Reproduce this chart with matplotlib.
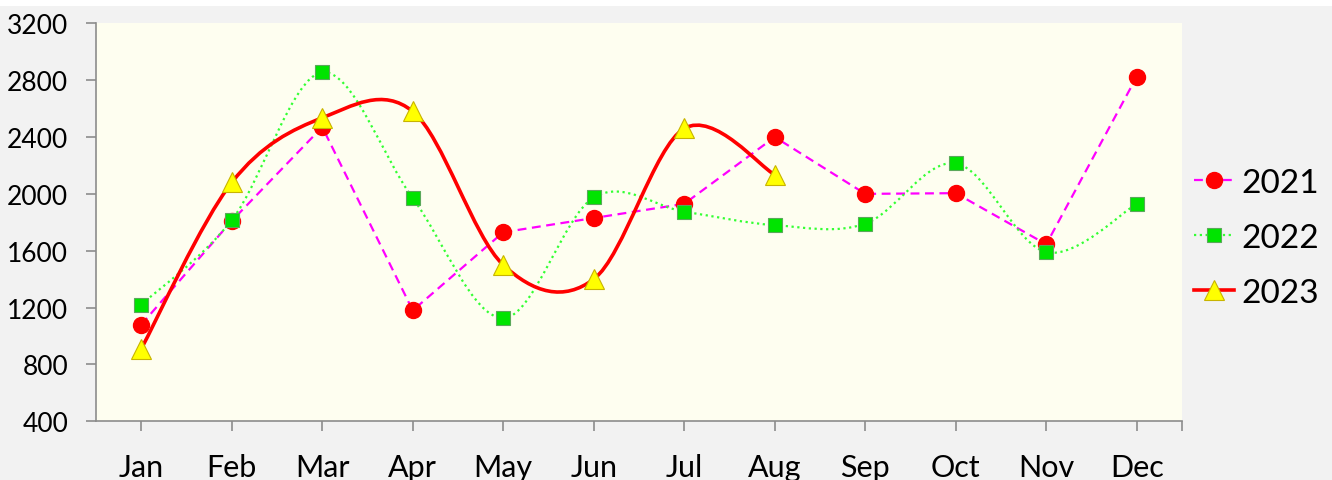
import matplotlib
matplotlib.use("Agg")
import matplotlib.pyplot as plt
from matplotlib.path import Path
from matplotlib.patches import PathPatch, Rectangle
from matplotlib.lines import Line2D
import numpy as np

months = ["Jan", "Feb", "Mar", "Apr", "May", "Jun", "Jul", "Aug", "Sep", "Oct", "Nov", "Dec"]
y_ticks = [400, 800, 1200, 1600, 2000, 2400, 2800, 3200]
s2021 = [1080, 1810, 2470, 1180, 1730, 1830, 1930, 2400, 2000, 2005, 1645, 2825]
s2022 = [1220, 1815, 2855, 1970, 1125, 1975, 1875, 1780, 1790, 2215, 1590, 1930]
s2023 = [910, 2080, 2535, 2580, 1500, 1400, 2460, 2135]

plt.rcParams['font.family'] = ['Lato', 'DejaVu Sans']

fig = plt.figure(figsize=(13.32, 4.81), dpi=100)
fig.patch.set_facecolor('#f2f2f2')
fig.patches.append(Rectangle((0, 1 - 7/481), 1, 7/481, transform=fig.transFigure,
                             facecolor='white', edgecolor='none', zorder=-1))
ax = fig.add_axes([96/1332, 58.7/481, 1086/1332, 398/481])
ax.set_facecolor('#fefef0')


def smooth_path(xs, ys):
    xs = np.asarray(xs, float)
    ys = np.asarray(ys, float)
    n = len(xs)
    verts = [(xs[0], ys[0])]
    codes = [Path.MOVETO]
    for i in range(n - 1):
        p0 = i - 1 if i > 0 else i
        p3 = i + 2 if i + 2 < n else i + 1
        tx1 = (xs[i + 1] - xs[p0]) / 6.0
        ty1 = (ys[i + 1] - ys[p0]) / 6.0
        tx2 = (xs[p3] - xs[i]) / 6.0
        ty2 = (ys[p3] - ys[i]) / 6.0
        verts += [(xs[i] + tx1, ys[i] + ty1), (xs[i + 1] - tx2, ys[i + 1] - ty2),
                  (xs[i + 1], ys[i + 1])]
        codes += [Path.CURVE4] * 3
    return Path(verts, codes)


x21 = np.arange(len(s2021))
x22 = np.arange(len(s2022))
x23 = np.arange(len(s2023))

# 2021: straight dashed
ax.plot(x21, s2021, color='#ff00ff', lw=1.6, ls=(0, (4, 2.5)), zorder=3)
ax.plot(x21, s2021, ls='none', marker='o', ms=11.5, mfc='#ff0000', mec='#ff0000', zorder=4)

# 2022: smoothed dotted
ax.add_patch(PathPatch(smooth_path(x22, s2022), facecolor='none', edgecolor='#33ff33',
                       lw=1.6, ls=(0, (1, 1.6)), zorder=3))
ax.plot(x22, s2022, ls='none', marker='s', ms=9.5, mfc='#00e400', mec='#5aa85a', mew=0.8, zorder=4)

# 2023: smoothed solid
ax.add_patch(PathPatch(smooth_path(x23, s2023), facecolor='none', edgecolor='#ff0000',
                       lw=2.6, zorder=5))
ax.plot(x23, s2023, ls='none', marker='^', ms=15, mfc='#ffff00', mec='#c8b400', mew=0.8, zorder=6)

ax.set_xlim(-0.5, 11.5)
ax.set_ylim(400, 3200)
ax.set_yticks(y_ticks)
ax.set_yticklabels([str(v) for v in y_ticks], fontsize=19)
ax.set_xticks(range(len(months)))
ax.set_xticklabels(months, fontsize=22)
ax.set_xticks([11.5], minor=True)
ax.tick_params(axis='x', which='both', direction='out', length=7, width=1.2, color='#8c8c8c', pad=16)
ax.tick_params(axis='y', direction='out', length=7, width=1.2, color='#8c8c8c', pad=13)
for s in ['top', 'right']:
    ax.spines[s].set_visible(False)
for s in ['left', 'bottom']:
    ax.spines[s].set_color('#8c8c8c')
    ax.spines[s].set_linewidth(1.2)

handles = [
    Line2D([], [], color='#ff00ff', lw=1.6, ls=(0, (4, 2.5)), marker='o', ms=11.5,
           mfc='#ff0000', mec='#ff0000'),
    Line2D([], [], color='#33ff33', lw=1.6, ls=(0, (1, 1.6)), marker='s', ms=9.5,
           mfc='#00e400', mec='#5aa85a', mew=0.8),
    Line2D([], [], color='#ff0000', lw=2.6, marker='^', ms=15, mfc='#ffff00', mec='#c8b400', mew=0.8),
]
leg = fig.legend(handles, ['2021', '2022', '2023'], loc='center left',
                 bbox_to_anchor=(1194/1332, 1 - 239/481), frameon=False, fontsize=24,
                 handlelength=1.2, handletextpad=0.22, labelspacing=0.75,
                 borderpad=0, borderaxespad=0)

fig.savefig('out.png', dpi=100, facecolor=fig.get_facecolor())
